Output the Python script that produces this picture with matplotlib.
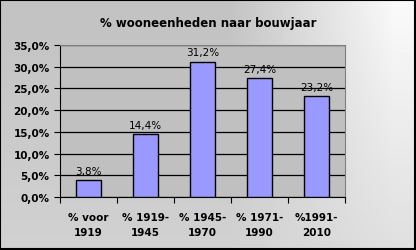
import matplotlib
matplotlib.use("Agg")
import matplotlib.pyplot as plt
import numpy as np
from matplotlib.ticker import FuncFormatter

categories = ["% voor\n1919", "% 1919-\n1945", "% 1945-\n1970", "% 1971-\n1990", "%1991-\n2010"]
values = [3.8, 14.4, 31.2, 27.4, 23.2]
labels = ["3,8%", "14,4%", "31,2%", "27,4%", "23,2%"]

fig = plt.figure(figsize=(4.16, 2.51), dpi=100)

# gradient background
bg = fig.add_axes([0, 0, 1, 1], zorder=-10)
xx, yy = np.meshgrid(np.linspace(0, 1, 200), np.linspace(0, 1, 200))
ytop = 1 - yy
g = 0.76 + 0.06 * yy + 0.22 * np.clip((xx - 0.55) / 0.4, 0, 1) * (0.25 + 0.75 * ytop)
g = np.clip(g, 0, 1)
bg.imshow(g, cmap="gray", vmin=0, vmax=1, extent=[0, 1, 0, 1], aspect="auto", origin="upper")
bg.set_xlim(0, 1); bg.set_ylim(0, 1)
bg.axis("off")
bg.add_patch(plt.Rectangle((0.001, 0.002), 0.997, 0.995, fill=False, edgecolor="black", lw=1.5, transform=bg.transAxes))

ax = fig.add_axes([60/416, 1 - 198/251, 285/416, 152/251])
ax.set_facecolor("#C0C0C0")
x = np.arange(len(categories))
ax.bar(x, values, width=0.44, color="#9999FF", edgecolor="black", linewidth=1, zorder=3)
ax.set_xlim(-0.5, len(categories) - 0.5)
ax.set_ylim(0, 35)
ax.set_yticks(np.arange(0, 36, 5))
ax.yaxis.set_major_formatter(FuncFormatter(lambda v, p: f"{v:.1f}%".replace(".", ",")))
ax.yaxis.grid(True, color="black", lw=0.9, zorder=1)
ax.set_xticks(np.arange(-0.5, len(categories), 1), minor=False)
ax.set_xticklabels([])
ax.set_xticks(x, minor=True)
ax.set_xticklabels(categories, minor=True, fontsize=7.5, fontweight="bold", linespacing=1.6)
ax.tick_params(axis="x", which="minor", length=0, pad=11)
ax.tick_params(axis="x", which="major", length=4, direction="out", width=0.8)
ax.tick_params(axis="y", length=4, width=0.8, labelsize=7.5)
for lab in ax.get_yticklabels():
    lab.set_fontweight("bold")
for s in ["top", "right"]:
    ax.spines[s].set_color("#808080")
for s in ["left", "bottom"]:
    ax.spines[s].set_color("black")
for xi, v, l in zip(x, values, labels):
    ax.text(xi, v + 1.0, l, ha="center", va="bottom", fontsize=7.5, zorder=4)

fig.text(0.5, 1 - 23/251, "% wooneenheden naar bouwjaar", ha="center", va="center", fontsize=8.5, fontweight="bold")

fig.savefig("out.png", dpi=100)
